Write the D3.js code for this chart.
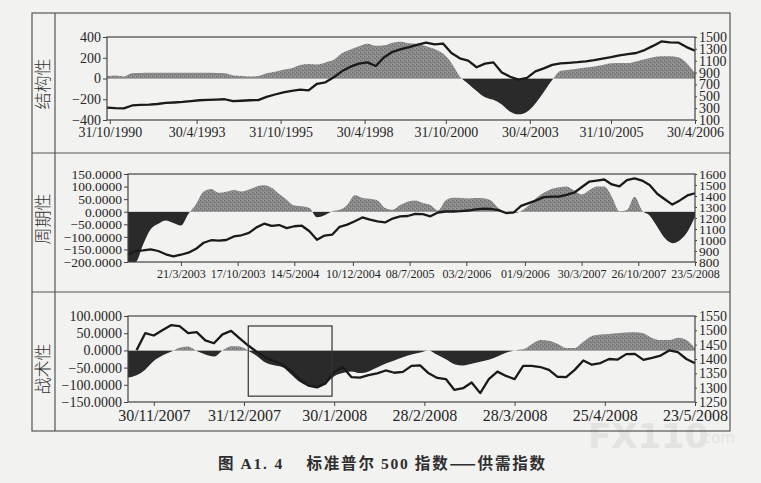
<!DOCTYPE html>
<html><head><meta charset="utf-8">
<script src="https://cdn.jsdelivr.net/npm/d3@7"></script>
<style>
html,body{margin:0;padding:0;background:#f2f2f0;}
svg{display:block;}
</style></head>
<body>
<svg id="chart" width="761" height="483"></svg>
<script>
// ---------------- DATA ----------------
// Panel 1 (结构性): quarterly steps (months index, step 3)
const p1Step = 3;
const p1Ticks = [1, 32, 62, 92, 121, 151, 180, 210];
const p1TickLabels = ["31/10/1990","30/4/1993","31/10/1995","30/4/1998","31/10/2000","30/4/2003","31/10/2005","30/4/2006"];
const p1Supply = [25,30,20,50,52,55,55,55,55,55,55,55,55,52,50,30,25,20,25,50,65,85,100,130,140,135,155,180,245,280,310,335,315,320,345,355,340,332,310,285,240,150,20,-50,-120,-180,-205,-250,-320,-345,-320,-240,-130,-15,75,85,95,105,115,130,148,150,150,165,185,205,215,215,205,150,50];
const p1Index = [310,300,295,345,355,360,370,388,395,405,420,433,438,444,450,417,425,433,435,489,530,565,590,611,600,711,735,822,925,1000,1050,1072,1010,1160,1250,1294,1330,1370,1406,1375,1390,1230,1140,1100,990,1050,1072,900,830,780,811,920,970,1030,1055,1065,1075,1089,1110,1135,1160,1190,1211,1230,1280,1350,1425,1410,1406,1330,1267];
const p1Left = [400,200,0,-200,-400];
const p1Right = [1500,1300,1100,900,700,500,300,100];

// Panel 2 (周期性): 4-week steps (week index)
const p2Step = 4;
const p2Ticks = [28, 58, 88, 119, 149, 179, 210, 240, 270, 300];
const p2TickLabels = ["21/3/2003","17/10/2003","14/5/2004","10/12/2004","08/7/2005","03/2/2006","01/9/2006","30/3/2007","26/10/2007","23/5/2008"];
const p2Supply = [-200,-200,-130,-70,-48,-35,-45,-55,-8,30,80,90,75,79,86,80,88,100,105,95,70,48,25,22,15,-22,-14,2,8,27,65,55,52,45,15,8,27,40,45,35,27,5,45,56,55,53,55,54,45,15,-4,-5,3,25,55,75,90,97,100,84,68,85,100,100,60,2,7,60,5,-15,-60,-105,-125,-113,-80,-19];
const p2Index = [866,900,905,915,900,870,851,866,885,920,975,998,995,1000,1032,1043,1065,1115,1148,1128,1136,1108,1125,1130,1080,1002,1040,1048,1120,1140,1170,1205,1185,1170,1160,1195,1214,1218,1238,1235,1215,1250,1259,1259,1262,1268,1278,1285,1282,1272,1245,1250,1310,1335,1360,1390,1395,1395,1410,1430,1480,1530,1540,1550,1505,1487,1545,1560,1540,1500,1420,1370,1322,1360,1405,1425];
const p2Left = [150,100,50,0,-50,-100,-150,-200];
const p2Right = [1600,1500,1400,1300,1200,1100,1000,900,800];

// Panel 3 (战术性): 2-trading-day steps (day index)
const p3Step = 2;
const p3Ticks = [6, 27, 48, 69, 90, 111, 132];
const p3TickLabels = ["30/11/2007","31/12/2007","30/1/2008","28/2/2008","28/3/2008","25/4/2008","23/5/2008"];
const p3Supply = [-79,-72,-56,-31,-15,-4,8,11,-2,-12,-18,0,12,11,-1,-16,-35,-43,-49,-70,-92,-104,-107,-97,-75,-66,-61,-66,-61,-50,-38,-29,-20,-12,-6,0,-13,-26,-40,-44,-39,-33,-27,-18,-7,0,3,18,30,28,19,7,7,25,42,46,48,50,52,53,50,36,30,30,37,30,6];
const p3Index = [null,1431,1490,1482,1500,1518,1515,1490,1494,1465,1455,1486,1498,1472,1447,1425,1405,1393,1380,1358,1330,1307,1301,1315,1355,1372,1337,1335,1344,1350,1360,1352,1355,1376,1378,1350,1334,1330,1292,1298,1318,1281,1330,1356,1341,1330,1376,1376,1372,1362,1338,1337,1362,1395,1380,1386,1400,1398,1417,1418,1397,1404,1412,1430,1424,1400,1385];
const p3Left = [100,50,0,-50,-100,-150];
const p3Right = [1550,1500,1450,1400,1350,1300,1250];
// highlighted window: day range and supply/demand value range
const p3WindowDays = [28, 47.5];
const p3WindowValues = [71, -133];

const yLabels = ["结构性","周期性","战术性"];
const captionParts = [
  {t:"图 ", cjk:true}, {t:"A1. 4", cjk:false}, {t:"　 标准普尔 ", cjk:true}, {t:"500", cjk:false}, {t:" 指数——供需指数", cjk:true}
];

// ---------------- DRAW ----------------
const svg = d3.select("#chart");
const defs = svg.append("defs");
const pat = defs.append("pattern").attr("id","grain").attr("width",4).attr("height",4).attr("patternUnits","userSpaceOnUse");
pat.append("rect").attr("width",4).attr("height",4).attr("fill","#898989");
pat.append("rect").attr("x",0).attr("y",0).attr("width",1).attr("height",1).attr("fill","#666");
pat.append("rect").attr("x",2).attr("y",2).attr("width",1).attr("height",1).attr("fill","#6e6e6e");
pat.append("rect").attr("x",3).attr("y",0).attr("width",1).attr("height",1).attr("fill","#a3a3a3");
pat.append("rect").attr("x",1).attr("y",3).attr("width",1).attr("height",1).attr("fill","#9d9d9d");

// watermark (faint)
const wm = svg.append("g").attr("fill","#e3e3e1").attr("font-family","'DejaVu Sans',sans-serif").attr("font-weight",700);
wm.append("text").attr("x",588).attr("y",448).attr("font-size",34).text("FX110");
wm.append("text").attr("x",698).attr("y",443).attr("font-size",15).attr("font-weight",400).text(".com");

// outer frame
const frame = svg.append("g").attr("stroke","#555").attr("stroke-width",1.2).attr("fill","none");
frame.append("rect").attr("x",32).attr("y",13).attr("width",698).attr("height",418);
frame.append("line").attr("x1",55).attr("x2",55).attr("y1",13).attr("y2",431);
frame.append("line").attr("x1",32).attr("x2",730).attr("y1",153).attr("y2",153);
frame.append("line").attr("x1",32).attr("x2",730).attr("y1",292).attr("y2",292);

const panels = [
  {L:107,R:695,T:37,B:120, step:p1Step, supply:p1Supply, index:p1Index, ticks:p1Ticks, tickLabels:p1TickLabels,
   left:p1Left, right:p1Right, ldom:[-400,400], rdom:[100,1500], lfmt:d3.format("d"), xfs:14, yfs:14, rfs:14, xpad:3, label:yLabels[0], ly:84},
  {L:128,R:695,T:174,B:262, step:p2Step, supply:p2Supply, index:p2Index, ticks:p2Ticks, tickLabels:p2TickLabels,
   left:p2Left, right:p2Right, ldom:[-200,150], rdom:[800,1600], lfmt:d3.format(".4f"), xfs:12, yfs:13.5, rfs:13.5, xpad:3, label:yLabels[1], ly:219},
  {L:128,R:695,T:316,B:402, step:p3Step, supply:p3Supply, index:p3Index, ticks:p3Ticks, tickLabels:p3TickLabels,
   left:p3Left, right:p3Right, ldom:[-150,100], rdom:[1250,1550], lfmt:d3.format(".4f"), xfs:16, yfs:14, rfs:14, xpad:4, label:yLabels[2], ly:369, windowed:true}
];

panels.forEach((p, k) => {
  const n = p.supply.length;
  const x = d3.scaleLinear().domain([0, (n-1)*p.step]).range([p.L, p.R]);
  const yl = d3.scaleLinear().domain(p.ldom).range([p.B, p.T]);
  const yr = d3.scaleLinear().domain(p.rdom).range([p.B, p.T]);
  const g = svg.append("g");
  const z = yl(0);

  defs.append("clipPath").attr("id","pos"+k).append("rect").attr("x",p.L).attr("y",p.T).attr("width",p.R-p.L).attr("height",z-p.T);
  defs.append("clipPath").attr("id","neg"+k).append("rect").attr("x",p.L).attr("y",z).attr("width",p.R-p.L).attr("height",p.B-z);

  const area = d3.area().x((d,i)=>x(i*p.step)).y0(z).y1(d=>yl(d)).curve(d3.curveMonotoneX);
  g.append("path").datum(p.supply).attr("d",area).attr("fill","url(#grain)").attr("clip-path","url(#pos"+k+")");
  g.append("path").datum(p.supply).attr("d",area).attr("fill","#2a2a2a").attr("clip-path","url(#neg"+k+")");

  const line = d3.line().defined(d=>d!=null).x((d,i)=>x(i*p.step)).y(d=>yr(d));
  g.append("path").datum(p.index).attr("d",line).attr("fill","none").attr("stroke","#1a1a1a").attr("stroke-width",2.3).attr("stroke-linejoin","round");

  g.append("rect").attr("x",p.L).attr("y",p.T).attr("width",p.R-p.L).attr("height",p.B-p.T)
    .attr("fill","none").attr("stroke","#444").attr("stroke-width",1.2);

  if (p.windowed) {
    g.append("rect")
      .attr("x",x(p3WindowDays[0])).attr("width",x(p3WindowDays[1])-x(p3WindowDays[0]))
      .attr("y",yl(p3WindowValues[0])).attr("height",yl(p3WindowValues[1])-yl(p3WindowValues[0]))
      .attr("fill","none").attr("stroke","#333").attr("stroke-width",1.2);
  }

  const font = "'Liberation Serif','Times New Roman',serif";
  const ax = g.append("g").attr("transform",`translate(0,${p.B})`)
    .call(d3.axisBottom(x).tickValues(p.ticks).tickFormat((d,i)=>p.tickLabels[i]).tickSize(4).tickPadding(p.xpad));
  const al = g.append("g").attr("transform",`translate(${p.L},0)`)
    .call(d3.axisLeft(yl).tickValues(p.left).tickFormat(p.lfmt).tickSize(4).tickPadding(2));
  const ar = g.append("g").attr("transform",`translate(${p.R},0)`)
    .call(d3.axisRight(yr).tickValues(p.right).tickFormat(d3.format("d")).tickSize(2).tickPadding(2));
  [[ax,p.xfs],[al,p.yfs],[ar,p.rfs]].forEach(([a,fs])=>{
    a.select(".domain").remove();
    a.selectAll("line").attr("stroke","#444");
    a.selectAll("text").attr("font-family",font).attr("font-size",fs).attr("fill","#262626");
  });

  svg.append("text").attr("transform",`translate(49,${p.ly}) rotate(-90)`).attr("text-anchor","middle")
    .attr("font-family","'Noto Sans CJK SC'").attr("font-weight",300).attr("font-size",17).attr("fill","#333").text(p.label);
});

const cap = svg.append("text").attr("x",218).attr("y",469)
  .attr("font-weight",700).attr("font-size",15.5).attr("fill","#2e2e2e")
  .attr("textLength",327).attr("lengthAdjust","spacing");
captionParts.forEach(c => {
  cap.append("tspan").attr("font-family", c.cjk ? "'Noto Sans CJK SC'" : "'Liberation Serif',serif").text(c.t);
});
</script>
</body></html>
